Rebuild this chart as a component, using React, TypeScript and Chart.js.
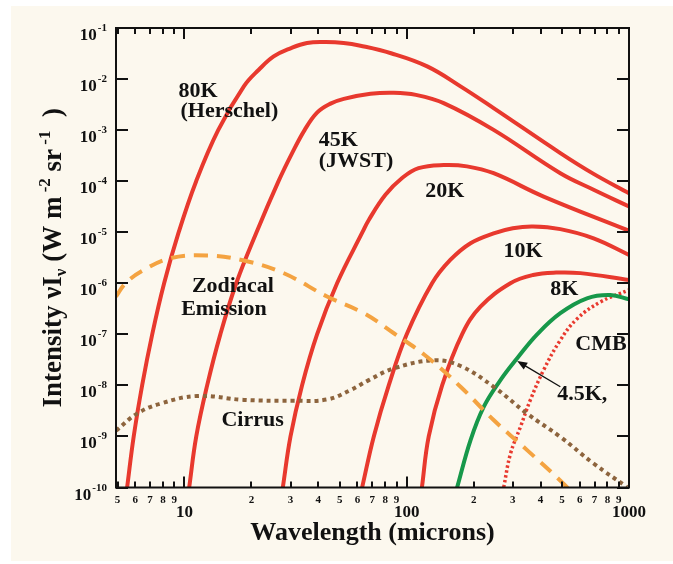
import React, { useEffect, useRef } from 'react';
import { Chart, registerables } from 'chart.js';

Chart.register(...registerables);

// ---- data (wavelength in microns, intensity in W m^-2 sr^-1) ----
const curve80K: [number, number][] = [
  [5.52, 1e-10], [5.91, 1e-9], [6.45, 1e-8], [7.16, 1e-7], [8.1, 1e-6], [9.42, 1e-5],
  [11.29, 1e-4], [14.18, 1e-3], [18.5, 7.2e-3], [21.6, 0.0152],
  [25.2, 0.0277], [30, 0.04], [35.6, 0.0508], [43, 0.053], [52, 0.051], [61.9, 0.045],
  [85, 0.032], [123.6, 0.0177], [174.6, 7.2e-3], [246, 2.7e-3], [491, 3.55e-4],
  [693, 1.39e-4], [1000, 5.8e-5],
];
const curve45K: [number, number][] = [
  [10.5, 1e-10], [11.3, 1e-9], [12.65, 1e-8], [14.5, 1e-7], [17.1, 1e-6], [21.1, 1e-5],
  [26.5, 1e-4], [30.5, 3.54e-4], [34.7, 1e-3], [39.5, 2.2e-3], [45.4, 3.3e-3],
  [52.1, 4.1e-3], [68.7, 5.15e-3], [87.5, 5.4e-3], [110, 4.9e-3], [146.6, 3.38e-3],
  [246, 1.01e-3], [491, 1.43e-4], [693, 6.8e-5], [1000, 3.2e-5],
];
const curve20K: [number, number][] = [
  [27.7, 1e-10], [30.0, 1e-9], [33.8, 1e-8], [39.5, 1e-7], [48.6, 1e-6], [63.2, 1e-5],
  [67.5, 1.74e-5], [80.2, 5.4e-5], [95.3, 1.15e-4], [113, 1.8e-4], [146.6, 2.07e-4],
  [186.7, 1.95e-4], [246, 1.43e-4], [413, 5.0e-5], [1000, 1.07e-5],
];
const curve10K: [number, number][] = [
  [63, 1e-10], [71.1, 1e-9], [83, 1e-8], [100, 1e-7], [130, 1e-6], [157, 2.86e-6],
  [193.6, 6.1e-6], [246, 9.5e-6], [300, 1.2e-5], [370, 1.3e-5], [491, 1.15e-5],
  [693, 7.6e-6], [1000, 3.6e-6],
];
const curve8K: [number, number][] = [
  [117, 1e-10], [125.6, 1e-9], [144.3, 1e-8], [177.4, 1e-7], [214.7, 3.47e-7],
  [292.7, 1e-6], [370, 1.45e-6], [470, 1.62e-6], [604, 1.58e-6], [1000, 1.16e-6],
];
const curve4_5K: [number, number][] = [
  [168.5, 1e-10], [193.7, 8.5e-10], [222, 3.8e-9], [264, 1.27e-8], [314, 3.4e-8],
  [386, 1.0e-7], [491, 2.6e-7], [647, 5.08e-7], [824, 5.9e-7], [1000, 4.85e-7],
];
const curveCMB: [number, number][] = [
  [273, 1e-10], [293, 4.6e-10], [325, 1.55e-9], [360, 5.2e-9], [413, 2.0e-8],
  [491, 7.7e-8], [583, 2.0e-7], [743, 4.3e-7], [1000, 7.4e-7],
];
const zodiacal: [number, number][] = [
  [4.92, 5.5e-7], [5.43, 1e-6], [6.56, 1.82e-6], [8.65, 3.1e-6], [12.65, 3.5e-6],
  [18.5, 2.8e-6], [28, 1.57e-6], [43.8, 5.5e-7], [64, 2.6e-7], [87.5, 1.05e-7],
  [123.6, 3.6e-8], [174.6, 9.4e-9], [246, 2.1e-9], [348, 5.4e-10], [526, 1.02e-10],
  [560, 7e-11],
];
const cirrus: [number, number][] = [
  [4.92, 1.29e-9], [6.12, 2.8e-9], [7.8, 4.4e-9], [11.4, 6.2e-9], [18.5, 5.2e-9],
  [31, 5.0e-9], [43.8, 5.3e-9], [55.9, 8.1e-9], [67.5, 1.27e-8], [87.5, 2.15e-8],
  [132.5, 3.1e-8], [174.6, 2.4e-8], [246, 9.4e-9], [348, 2.8e-9], [491, 9.8e-10],
  [693, 2.95e-10], [980, 1.02e-10],
];

// ---- axes ----
const X_MIN = 4.92;
const X_MAX = 1000;
const Y_MIN = 1e-10;
const Y_MAX = 1e-1;
const xMajorTicks = [10, 100, 1000];
const xMajorLabels = ['10', '100', '1000'];
const xMinorTicks = [5, 6, 7, 8, 9, 20, 30, 40, 50, 60, 70, 80, 90, 200, 300, 400, 500, 600, 700, 800, 900];
const xMinorLabels = ['5', '6', '7', '8', '9', '2', '3', '4', '5', '6', '7', '8', '9', '2', '3', '4', '5', '6', '7', '8', '9'];
const yExponents = [-1, -2, -3, -4, -5, -6, -7, -8, -9, -10];

// ---- annotations (anchored in data coordinates) ----
const curveLabels: { text: string; x: number; y: number }[] = [
  { text: '80K', x: 9.4, y: 4.4e-3 },
  { text: '(Herschel)', x: 9.6, y: 1.82e-3 },
  { text: '45K', x: 40.2, y: 4.92e-4 },
  { text: '(JWST)', x: 40.2, y: 1.93e-4 },
  { text: '20K', x: 121.3, y: 4.99e-5 },
  { text: '10K', x: 272.8, y: 3.33e-6 },
  { text: '8K', x: 442.6, y: 5.9e-7 },
  { text: 'CMB', x: 573.6, y: 4.92e-8 },
  { text: '4.5K,', x: 475, y: 5.15e-9 },
  { text: 'Zodiacal', x: 10.8, y: 6.84e-7 },
  { text: 'Emission', x: 9.66, y: 2.39e-7 },
  { text: 'Cirrus', x: 14.66, y: 1.59e-9 },
];
const arrowTail = { x: 491, y: 9.4e-9 };
const arrowTip = { x: 314, y: 3.0e-8 };

const RED = '#e8392e';
const GREEN = '#17984a';
const ORANGE = '#f4a341';
const BROWN = '#8d643d';
const CREAM = '#fcf8ee';
const SERIF = "'Liberation Serif', 'Times New Roman', serif";

const toPts = (arr: [number, number][]) => arr.map(([x, y]) => ({ x, y }));

const decorPlugin = {
  id: 'decor',
  beforeDraw(chart: any) {
    const ctx = chart.ctx;
    ctx.save();
    ctx.fillStyle = '#ffffff';
    ctx.fillRect(0, 0, chart.width, chart.height);
    ctx.fillStyle = CREAM;
    ctx.fillRect(11, 6, chart.width - 11, 555);
    ctx.restore();
  },
  afterDraw(chart: any) {
    const ctx = chart.ctx;
    const xs = chart.scales.x;
    const ys = chart.scales.y;
    const { left, right, top, bottom } = chart.chartArea;
    ctx.save();

    // ticks
    ctx.strokeStyle = '#111';
    ctx.lineWidth = 2;
    ctx.beginPath();
    const tick = (v: number, len: number) => {
      const px = Math.round(xs.getPixelForValue(v));
      ctx.moveTo(px, bottom);
      ctx.lineTo(px, bottom - len);
      ctx.moveTo(px, top);
      ctx.lineTo(px, top + len);
    };
    xMinorTicks.forEach((v) => tick(v, 6));
    xMajorTicks.forEach((v) => tick(v, 11));
    yExponents.forEach((e) => {
      const py = Math.round(ys.getPixelForValue(Math.pow(10, e)));
      ctx.moveTo(left, py);
      ctx.lineTo(left + 12, py);
      ctx.moveTo(right, py);
      ctx.lineTo(right - 12, py);
    });
    ctx.stroke();

    // border
    ctx.lineWidth = 2;
    ctx.strokeRect(left, top, right - left, bottom - top);

    // x tick labels
    ctx.fillStyle = '#111';
    ctx.textAlign = 'center';
    ctx.textBaseline = 'alphabetic';
    ctx.font = `bold 11px ${SERIF}`;
    xMinorTicks.forEach((v, i) => {
      ctx.fillText(xMinorLabels[i], xs.getPixelForValue(v), bottom + 15);
    });
    ctx.font = `bold 17px ${SERIF}`;
    xMajorTicks.forEach((v, i) => {
      ctx.fillText(xMajorLabels[i], xs.getPixelForValue(v), bottom + 29);
    });

    // y tick labels (10 with superscript exponent)
    ctx.textAlign = 'left';
    yExponents.forEach((e) => {
      const py = ys.getPixelForValue(Math.pow(10, e));
      const expText = String(e);
      ctx.font = `bold 17px ${SERIF}`;
      const w10 = ctx.measureText('10').width;
      ctx.font = `bold 11px ${SERIF}`;
      const wE = ctx.measureText(expText).width;
      const x0 = 107 - w10 - wE - 1;
      ctx.font = `bold 17px ${SERIF}`;
      ctx.fillText('10', x0, py + 12);
      ctx.font = `bold 11px ${SERIF}`;
      ctx.fillText(expText, x0 + w10 + 1, py + 3);
    });

    // curve labels
    ctx.font = `bold 22px ${SERIF}`;
    curveLabels.forEach((l) => {
      ctx.fillText(l.text, xs.getPixelForValue(l.x), ys.getPixelForValue(l.y));
    });

    // arrow
    const tx = xs.getPixelForValue(arrowTail.x);
    const ty = ys.getPixelForValue(arrowTail.y);
    const hx = xs.getPixelForValue(arrowTip.x);
    const hy = ys.getPixelForValue(arrowTip.y);
    const ang = Math.atan2(hy - ty, hx - tx);
    const hl = 10;
    const hw = 4;
    ctx.strokeStyle = '#111';
    ctx.lineWidth = 1.3;
    ctx.beginPath();
    ctx.moveTo(tx, ty);
    ctx.lineTo(hx - hl * Math.cos(ang) * 0.8, hy - hl * Math.sin(ang) * 0.8);
    ctx.stroke();
    ctx.beginPath();
    ctx.moveTo(hx, hy);
    ctx.lineTo(hx - hl * Math.cos(ang) + hw * Math.sin(ang), hy - hl * Math.sin(ang) - hw * Math.cos(ang));
    ctx.lineTo(hx - hl * Math.cos(ang) - hw * Math.sin(ang), hy - hl * Math.sin(ang) + hw * Math.cos(ang));
    ctx.closePath();
    ctx.fill();

    // x axis title
    ctx.textAlign = 'center';
    ctx.font = `bold 26px ${SERIF}`;
    ctx.fillText('Wavelength (microns)', (left + right) / 2, 540);

    // y axis title (rotated, with sub/superscripts)
    const segs: { t: string; size: number; dy: number }[] = [
      { t: 'Intensity \u03bdI', size: 27, dy: 0 },
      { t: '\u03bd', size: 17, dy: 5 },
      { t: ' (W m', size: 27, dy: 0 },
      { t: ' -2', size: 17, dy: -11 },
      { t: ' sr', size: 27, dy: 0 },
      { t: ' -1', size: 17, dy: -11 },
      { t: '  )', size: 27, dy: 0 },
    ];
    let total = 0;
    const widths = segs.map((s) => {
      ctx.font = `bold ${s.size}px ${SERIF}`;
      const w = ctx.measureText(s.t).width;
      total += w;
      return w;
    });
    ctx.translate(61, (top + bottom) / 2);
    ctx.rotate(-Math.PI / 2);
    ctx.textAlign = 'left';
    let cx = -total / 2;
    segs.forEach((s, i) => {
      ctx.font = `bold ${s.size}px ${SERIF}`;
      ctx.fillText(s.t, cx, s.dy);
      cx += widths[i];
    });
    ctx.restore();
  },
};

export default function App() {
  const canvasRef = useRef<HTMLCanvasElement | null>(null);

  useEffect(() => {
    if (!canvasRef.current) return;
    const solid = (data: [number, number][], color: string) => ({
      data: toPts(data),
      borderColor: color,
      borderWidth: 4,
      pointRadius: 0,
      tension: 0.4,
      fill: false,
    });
    const chart = new Chart(canvasRef.current, {
      type: 'line',
      data: {
        datasets: [
          { ...solid(zodiacal, ORANGE), borderDash: [14, 9] },
          { ...solid(cirrus, BROWN), borderDash: [4, 4] },
          solid(curve80K, RED),
          solid(curve45K, RED),
          solid(curve20K, RED),
          solid(curve10K, RED),
          solid(curve8K, RED),
          solid(curve4_5K, GREEN),
          { ...solid(curveCMB, RED), borderWidth: 3.5, borderDash: [2.5, 2.5] },
        ],
      },
      options: {
        responsive: false,
        animation: false,
        layout: { padding: { left: 116, right: 44, top: 28, bottom: 76.5 } },
        plugins: { legend: { display: false }, tooltip: { enabled: false } },
        scales: {
          x: { type: 'logarithmic', min: X_MIN, max: X_MAX, display: false },
          y: { type: 'logarithmic', min: Y_MIN, max: Y_MAX, display: false },
        },
      },
      plugins: [decorPlugin],
    });
    return () => chart.destroy();
  }, []);

  return (
    <div style={{ position: 'absolute', left: 0, top: 0, width: 673, height: 564 }}>
      <canvas ref={canvasRef} width={673} height={564} style={{ display: 'block' }} />
    </div>
  );
}
